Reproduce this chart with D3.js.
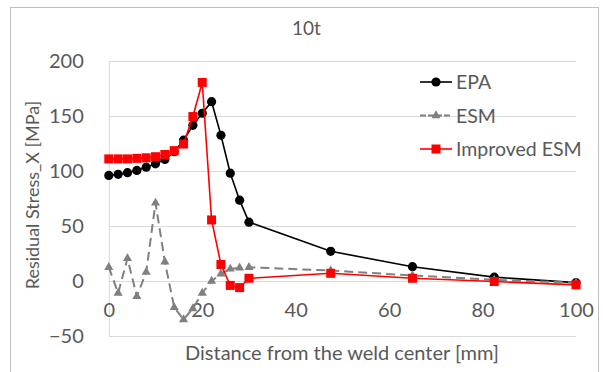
<!DOCTYPE html>
<html>
<head>
<meta charset="utf-8">
<script src="https://cdn.jsdelivr.net/npm/d3@7"></script>
<style>
  body { margin: 0; background: #fff; }
  svg text { font-family: Lato, "Open Sans", sans-serif; fill: #595959; }
</style>
</head>
<body>
<div id="chart"></div>
<script>
const distance = [0, 2, 4, 6, 8, 10, 12, 14, 16, 18, 20, 22, 24, 26, 28, 30, 47.5, 65, 82.5, 100]
const epa = [96, 97, 98.5, 100.5, 103.5, 106.5, 110.5, 117.5, 128, 141.5, 152.5, 163, 132.5, 98, 73.5, 53.5, 27, 13, 3.5, -1.5]
const esm = [12.5, -11, 20.5, -14, 8, 71, 17.5, -24, -35, -25, -11, 0, 6.5, 11, 12, 12.5, 9.5, 5, 1, -1.5]
const improvedEsm = [111, 111, 111, 111.5, 112, 113, 115, 118.5, 124.5, 149.5, 180.5, 55.5, 15, -4, -6, 2.5, 7, 2.5, -0.5, -3.5]

const seriesNames = ["EPA", "ESM", "Improved ESM"]
const xTicks = [0, 20, 40, 60, 80, 100]
const yTicks = [-50, 0, 50, 100, 150, 200]

const W = 603, H = 372
const dim = { ml: 108.8, mt: 61, width: 467.2, height: 275 }

const series = [
  { name: seriesNames[0], values: epa, color: "#000", dash: null, shape: "circle" },
  { name: seriesNames[1], values: esm, color: "#808080", dash: "9,5", shape: "triangle" },
  { name: seriesNames[2], values: improvedEsm, color: "#ff0000", dash: null, shape: "square" }
]

const svg = d3.select("#chart").append("svg").attr("width", W).attr("height", H)

svg.append("rect")
  .attr("x", 10.5).attr("y", 7.5).attr("width", 588).attr("height", 400)
  .attr("fill", "#fff").attr("stroke", "#bfbfbf")

const x = d3.scaleLinear().domain([0, 100]).range([dim.ml, dim.ml + dim.width])
const y = d3.scaleLinear().domain([-50, 200]).range([dim.mt + dim.height, dim.mt])

// grid
svg.append("g")
  .selectAll("line").data(yTicks).join("line")
  .attr("x1", x(0)).attr("x2", x(100))
  .attr("y1", d => y(d) + 0.5).attr("y2", d => y(d) + 0.5)
  .attr("stroke", "#d9d9d9").attr("stroke-width", 1)

svg.append("line")
  .attr("x1", x(0) + 0.5).attr("x2", x(0) + 0.5)
  .attr("y1", y(200)).attr("y2", y(-50))
  .attr("stroke", "#d9d9d9")

// axes
const yAxis = svg.append("g")
  .attr("transform", "translate(" + (x(0) - 25) + ",0)")
  .call(d3.axisLeft(y).tickValues(yTicks).tickSize(0).tickPadding(0))
yAxis.select(".domain").remove()
yAxis.selectAll("text").style("font-size", "20px").attr("fill", "#595959")

const xAxis = svg.append("g")
  .attr("transform", "translate(0," + y(0) + ")")
  .call(d3.axisBottom(x).tickValues(xTicks).tickSize(0).tickPadding(22))
xAxis.select(".domain").remove()
xAxis.selectAll("text").style("font-size", "20px").attr("fill", "#595959")

// titles
svg.append("text").attr("x", 306.5).attr("y", 35).attr("text-anchor", "middle")
  .style("font-size", "19px").text("10t")
svg.append("text").attr("x", 342).attr("y", 360).attr("text-anchor", "middle")
  .style("font-size", "20px").text("Distance from the weld center [mm]")
svg.append("text").attr("transform", "translate(39,195) rotate(-90)").attr("text-anchor", "middle")
  .style("font-size", "18px").text("Residual Stress_X [MPa]")

function marker(g, shape, color, cx, cy) {
  if (shape === "circle") {
    g.append("circle").attr("cx", cx).attr("cy", cy).attr("r", 4.6).attr("fill", color)
  } else if (shape === "square") {
    g.append("rect").attr("x", cx - 4.5).attr("y", cy - 4.5).attr("width", 9).attr("height", 9).attr("fill", color)
  } else {
    g.append("path").attr("d", d3.symbol(d3.symbolTriangle, 36)())
      .attr("transform", "translate(" + cx + "," + cy + ")").attr("fill", color)
  }
}

const line = d3.line().x((d, i) => x(distance[i])).y(d => y(d))

series.forEach(s => {
  const g = svg.append("g")
  g.append("path")
    .attr("d", line(s.values))
    .attr("fill", "none")
    .attr("stroke", s.color)
    .attr("stroke-width", s.shape === "triangle" ? 2 : 1.6)
    .attr("stroke-dasharray", s.dash)
  s.values.forEach((v, i) => marker(g, s.shape, s.color, x(distance[i]), y(v)))
})

// legend
const legend = svg.append("g")
series.forEach((s, i) => {
  const ly = 82 + i * 33.5
  legend.append("line").attr("x1", 420).attr("x2", 452).attr("y1", ly).attr("y2", ly)
    .attr("stroke", s.color).attr("stroke-width", s.shape === "triangle" ? 2 : 1.6)
    .attr("stroke-dasharray", s.dash ? "6,2" : null)
  marker(legend, s.shape, s.color, 436, ly)
  legend.append("text").attr("x", 456).attr("y", ly).attr("dy", "0.36em")
    .style("font-size", "19.5px").text(s.name)
})
</script>
</body>
</html>
